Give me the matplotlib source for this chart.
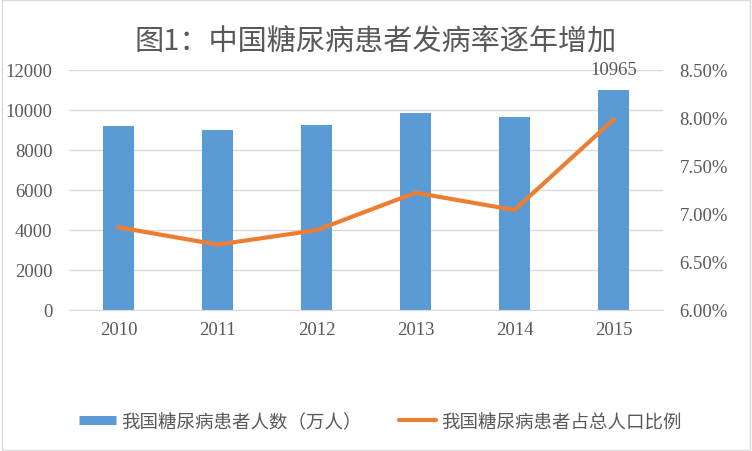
import matplotlib
matplotlib.use("Agg")
import matplotlib.pyplot as plt
from matplotlib.patches import Rectangle
from matplotlib.lines import Line2D
from matplotlib.ticker import FuncFormatter

years = ["2010", "2011", "2012", "2013", "2014", "2015"]
patients = [9190, 8990, 9240, 9840, 9640, 10965]      # 万人
ratio_pct = [6.86, 6.68, 6.83, 7.22, 7.04, 7.98]       # %

title = "图1：中国糖尿病患者发病率逐年增加"
bar_label = "我国糖尿病患者人数（万人）"
line_label = "我国糖尿病患者占总人口比例"

BLUE = "#5B9BD5"
ORANGE = "#ED7D31"
GREY = "#595959"
CJK = ["Noto Sans CJK SC", "DejaVu Sans"]
SERIF = ["Liberation Serif", "DejaVu Serif"]
TICK_SIZE = 13.5

fig = plt.figure(figsize=(7.52, 4.52), dpi=100)
fig.patches.append(Rectangle((0.002, 0.003), 0.996, 0.994, transform=fig.transFigure,
                             fill=False, edgecolor="#d9d9d9", linewidth=1.0))

ax = fig.add_axes([0.0918, 0.312, 0.7898, 0.5316])
x = range(len(years))
ax.bar(x, patients, width=0.31, color=BLUE, zorder=2)
ax.set_xlim(-0.5, len(years) - 0.5)
ax.set_ylim(0, 12000)
ax.set_yticks(range(0, 12001, 2000))
ax.set_xticks(list(x))
ax.set_xticklabels(years)
ax.grid(axis="y", color="#d9d9d9", linewidth=1.0, zorder=0)
for s in ["top", "right", "left"]:
    ax.spines[s].set_visible(False)
ax.spines["bottom"].set_color("#d9d9d9")
ax.tick_params(axis="y", length=0, colors=GREY, labelsize=TICK_SIZE, pad=12)
ax.tick_params(axis="x", length=0, colors=GREY, labelsize=TICK_SIZE, pad=8)
for lab in ax.get_xticklabels() + ax.get_yticklabels():
    lab.set_family(SERIF)
ax.text(x[-1], patients[-1] + 600, f"{patients[-1]}", ha="center", va="bottom",
        family=SERIF, fontsize=TICK_SIZE, color=GREY)

ax2 = ax.twinx()
ax2.plot(list(x), ratio_pct, color=ORANGE, linewidth=3, solid_joinstyle="round", zorder=3)
ax2.set_ylim(6.0, 8.5)
ax2.set_yticks([6.0, 6.5, 7.0, 7.5, 8.0, 8.5])
ax2.yaxis.set_major_formatter(FuncFormatter(lambda v, _: f"{v:.2f}%"))
for s in ax2.spines.values():
    s.set_visible(False)
ax2.tick_params(length=0, colors=GREY, labelsize=TICK_SIZE, pad=12)
for lab in ax2.get_yticklabels():
    lab.set_family(SERIF)

fig.text(0.5, 0.905, title, ha="center", va="center", family=CJK, fontsize=21, color=GREY)

handles = [Line2D([], [], color=BLUE, linewidth=6.5, solid_capstyle="butt"),
           Line2D([], [], color=ORANGE, linewidth=3, solid_capstyle="round")]
fig.legend(handles, [bar_label, line_label], loc="center", bbox_to_anchor=(0.506, 0.066),
           ncol=2, frameon=False, prop={"family": CJK, "size": 13.3},
           labelcolor=GREY, handlelength=2.0, handletextpad=0.3, columnspacing=2.0)

fig.savefig("out.png", dpi=100)
